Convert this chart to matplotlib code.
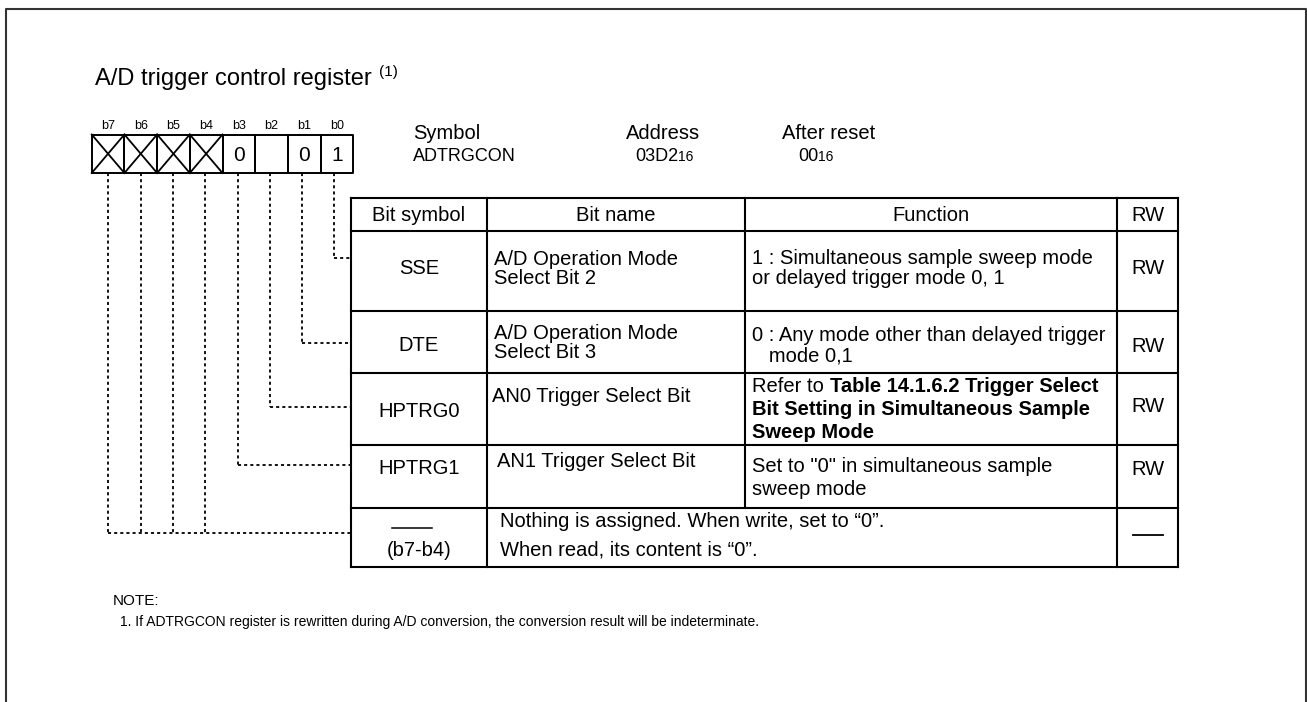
import matplotlib
matplotlib.use("Agg")
import matplotlib.pyplot as plt

plt.rcParams['font.family'] = ['Liberation Sans', 'DejaVu Sans']

# ======================================
# CONTENT
# ======================================
title = "A/D trigger control register"
title_note = "(1)"

bit_labels = ["b7", "b6", "b5", "b4", "b3", "b2", "b1", "b0"]
bit_values = ["x", "x", "x", "x", "0", "", "0", "1"]   # "x" = crossed cell

symbol_name = "ADTRGCON"
address = ("03D2", "16")
after_reset = ("00", "16")

headers = ["Bit symbol", "Bit name", "Function", "RW"]
symbols = ["SSE", "DTE", "HPTRG0", "HPTRG1", "(b7-b4)"]
names = [
    ["A/D Operation Mode", "Select Bit 2"],
    ["A/D Operation Mode", "Select Bit 3"],
    ["AN0 Trigger Select Bit"],
    ["AN1 Trigger Select Bit"],
    ["Nothing is assigned. When write, set to \u201c0\u201d.",
     "When read, its content is \u201c0\u201d."],
]
# each line is a list of (text, weight) runs
functions = [
    [[("1 : Simultaneous sample sweep mode", "normal")],
     [("or delayed trigger mode 0, 1", "normal")]],
    [[("0 : Any mode other than delayed trigger", "normal")],
     [("   mode 0,1", "normal")]],
    [[("Refer to ", "normal"), ("Table 14.1.6.2 Trigger Select", "bold")],
     [("Bit Setting in Simultaneous Sample", "bold")],
     [("Sweep Mode", "bold")]],
    [[("Set to \"0\" in simultaneous sample", "normal")],
     [("sweep mode", "normal")]],
    [],
]
rw = ["RW", "RW", "RW", "RW", ""]

note_head = "NOTE:"
note_line = ("1. If ADTRGCON register is rewritten during A/D conversion, "
             "the conversion result will be indeterminate.")

# ======================================
# LAYOUT (pixels, y downwards)
# ======================================
W, H = 1307, 702
reg_x0, reg_x1 = 91.7, 353.3
reg_y0, reg_y1 = 134.5, 173
col_x = [351, 487, 745, 1117, 1178]
row_y = [198, 231, 311, 373, 445, 508, 567]
link_y = [257.7, 343.3, 406.7, 465, 533.3]       # connector heights per row
dot_x0, dot_dx = 108.3, 32.3

sym_y = [267, 344, 410, 467, 549]
name_y = [[258, 277], [332, 351], [395], [460], [520, 548]]
func_y = [[257, 277], [334, 354], [385, 408, 431], [465, 488], []]
rw_y = [267, 345, 405, 468, 535]
name_x = [494, 494, 492, 497, 500]
func_x = 752

TS = 14.5  # table font size

fig = plt.figure(figsize=(W / 100, H / 100), dpi=100)
ax = fig.add_axes([0, 0, 1, 1])
ax.set_xlim(0, W)
ax.set_ylim(H, 0)
ax.axis("off")
renderer = fig.canvas.get_renderer()


def put(x, yc, s, size, weight="normal", ha="left"):
    """Place text so that capital letters are centred on yc."""
    t = ax.text(x, yc + 0.358 * size * 100 / 72, s, fontsize=size,
                fontweight=weight, ha=ha, va="baseline", color="black")
    return t


def width(t):
    return t.get_window_extent(renderer=renderer).width


def put_runs(x, yc, runs, size):
    for s, w in runs:
        t = put(x, yc, s, size, weight=w)
        x += width(t)


def put_sub(x, yc, main, sub, size, sub_size, ha="left"):
    t = put(0, yc, main, size)
    s = put(0, yc + 1.5, sub, sub_size)
    total = width(t) + width(s)
    if ha == "center":
        x -= total / 2
    t.set_x(x)
    s.set_x(x + width(t))


# outer frame
ax.plot([5.5, 5.5, 1305.5, 1305.5], [H, 9, 9, H], color="#333333", lw=1.5)

# title
t = put(95, 77, title, 17)
put(95 + width(t) + 7, 71, title_note, 11)

# register cells
cw = (reg_x1 - reg_x0) / len(bit_labels)
for i, (lab, val) in enumerate(zip(bit_labels, bit_values)):
    x0 = reg_x0 + i * cw
    ax.plot([x0, x0 + cw, x0 + cw, x0, x0], [reg_y0, reg_y0, reg_y1, reg_y1, reg_y0],
            color="black", lw=1.4)
    put(x0 + cw / 2, 125, lab, 9, ha="center")
    if val == "x":
        ax.plot([x0, x0 + cw], [reg_y0, reg_y1], color="black", lw=1.3)
        ax.plot([x0, x0 + cw], [reg_y1, reg_y0], color="black", lw=1.3)
    elif val:
        put(x0 + cw / 2, 154, val, 15, ha="center")

# symbol / address / reset header
put(413, 132, "Symbol", 14.5)
put(413, 155, symbol_name, 13)
put(663, 132, "Address", 14.5, ha="center")
put_sub(664, 155, address[0], address[1], 13, 10, ha="center")
put(782, 132, "After reset", 14.5)
put_sub(798, 155, after_reset[0], after_reset[1], 13, 10)

# dotted connectors
dash = dict(color="black", lw=1.3, linestyle=(0, (1.7, 1.7)))
for i in range(len(bit_labels)):
    bit = 7 - i
    x = dot_x0 + i * dot_dx
    row = bit if bit < 4 else 4
    ax.plot([x, x], [reg_y1, link_y[row]], **dash)
for row, y in enumerate(link_y):
    bit = row if row < 4 else 7
    x = dot_x0 + (7 - bit) * dot_dx
    ax.plot([x, col_x[0]], [y, y], **dash)

# table grid
for y in row_y:
    ax.plot([col_x[0], col_x[-1]], [y, y], color="black", lw=1.5)
for j, x in enumerate(col_x):
    y_end = row_y[-2] if j == 2 else row_y[-1]
    ax.plot([x, x], [row_y[0], y_end], color="black", lw=1.5)

# header text
for j, h in enumerate(headers):
    put((col_x[j] + col_x[j + 1]) / 2, 214, h, TS, ha="center")

# rows
for r in range(len(symbols)):
    put((col_x[0] + col_x[1]) / 2, sym_y[r], symbols[r], TS, ha="center")
    for line, y in zip(names[r], name_y[r]):
        put(name_x[r], y, line, TS)
    for runs, y in zip(functions[r], func_y[r]):
        put_runs(func_x, y, runs, TS)
    if rw[r]:
        put((col_x[3] + col_x[4]) / 2, rw_y[r], rw[r], TS, ha="center")
    else:
        ax.plot([1133, 1163], [rw_y[r], rw_y[r]], color="black", lw=1.3)

# overline above (b7-b4)
ax.plot([392, 432], [528, 528], color="black", lw=1.1)

# note
put(113, 600, note_head, 11)
put(120, 621, note_line, 10)

fig.savefig("out.png", dpi=100)
